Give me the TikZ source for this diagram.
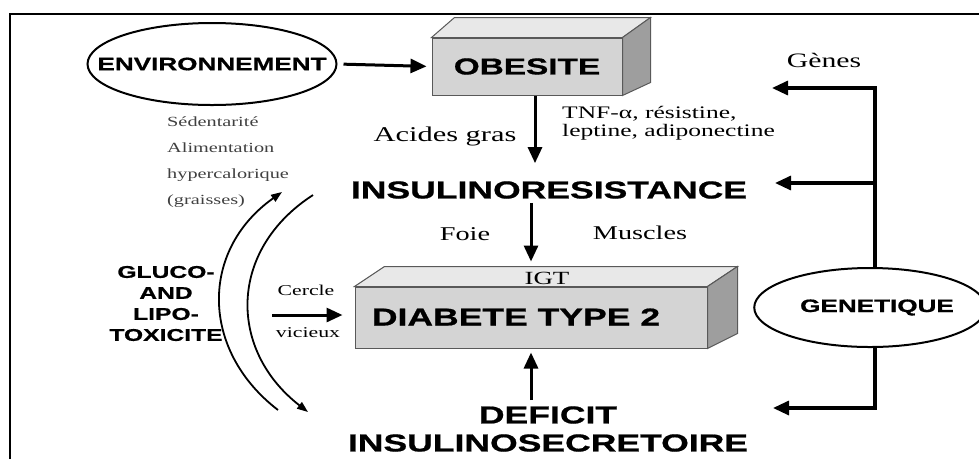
\documentclass[tikz,border=0pt]{standalone}
\usepackage{fontspec}
\usetikzlibrary{arrows.meta,calc,shapes.geometric}
\newfontfamily\headfont[FakeStretch=1.45, BoldFeatures={FakeBold=0.8}]{Liberation Sans}
\newfontfamily\notefont[FakeStretch=1.45]{Liberation Serif}
\tikzset{
  big/.style={font=\headfont\bfseries\fontsize{24.5}{28}\selectfont, inner sep=0pt, align=center},
  mid/.style={font=\headfont\bfseries\fontsize{17.6}{21}\selectfont, inner sep=0pt, align=center},
  note/.style={font=\notefont\fontsize{#1}{18}\selectfont, inner sep=0pt},
  note/.default=20,
  front/.style={draw=black!65, line width=1pt, fill=black!17, inner sep=0pt},
  face/.style={draw=black!65, line width=1pt, fill=#1},
  oval/.style={draw, ellipse, line width=2pt, inner sep=0pt},
  arr/.style={line width=3pt, -{Triangle[length=16pt,width=14pt]}},
  gline/.style={line width=3.2pt, -{Triangle[length=16pt,width=14pt]}},
  carr/.style={line width=1.8pt, -{Triangle[length=11pt,width=8pt]}}
}

\begin{document}
\begin{tikzpicture}[x=1pt, y=-1pt]
			%%%%% START %%%%%
			\useasboundingbox (0,0) rectangle (979,459);
			\draw[line width=2.5pt] (10,459) -- (10,14) -- (979,14);

			% boxes
			\node[front, big, font=\headfont\bfseries\fontsize{23}{26}\selectfont, minimum width=190, minimum height=57] (obe) at (527,66.5) {OBESITE};
			\draw[face=black!9] (obe.north west) -- ++(23,-20) -- ($(obe.north east)+(28,-20)$) -- (obe.north east) -- cycle;
			\draw[face=black!38] (obe.north east) -- ++(28,-20) -- ($(obe.south east)+(28,-13)$) -- (obe.south east) -- cycle;

			\node[front, minimum width=352, minimum height=61] (dia) at (531,317.5) {};
			\draw[face=black!9] (dia.north west) -- ++(30,-20) -- ($(dia.north east)+(30,-20)$) -- (dia.north east) -- cycle;
			\draw[face=black!38] (dia.north east) -- ++(30,-20) -- ($(dia.south east)+(30,-15)$) -- (dia.south east) -- cycle;
			\node[big] (diat) at (516,317) {DIABETE TYPE 2};
			\node[note=18.6, anchor=base] (igt) at (547,284) {IGT};

			% ovals
			\node[oval, mid, font=\headfont\bfseries\fontsize{18}{21}\selectfont, inner xsep=-27pt, minimum width=249, minimum height=82] (env) at (212,64) {ENVIRONNEMENT};
			\node[oval, mid, font=\headfont\bfseries\fontsize{18}{21}\selectfont, inner xsep=-2pt, minimum width=214, minimum height=79] (gen) at (870,307.5) {\hspace{14pt}GENETIQUE};

			% texts
			\node[big] (ins) at (549,190) {INSULINORESISTANCE};
			\node[big] (def) at (548,429) {DEFICIT\\INSULINOSECRETOIRE};
			\node[mid, font=\headfont\bfseries\fontsize{17}{21}\selectfont] (tox) at (166,303.5) {GLUCO-\\AND\\LIPO-\\TOXICITE};
			\node[note=14, font=\notefont\fontsize{14}{26}\selectfont, text=black!75, align=left, anchor=north west] (env2) at (167,117) {Sédentarité\\Alimentation\\hypercalorique\\(graisses)};
			\node[note=21, anchor=base] (acid) at (445,141) {Acides gras};
			\node[note=17.6, align=left, anchor=west] (tnf) at (562,123) {TNF-α, résistine,\\leptine, adiponectine};
			\node[note=20.5, anchor=base] (genes) at (824,67) {Gènes};
			\node[note=19.5, anchor=base] (foie) at (465,240) {Foie};
			\node[note=19.5, anchor=base] (musc) at (640,239) {Muscles};
			\node[note=15, anchor=base] (cerc) at (306,295) {Cercle};
			\node[note=15, anchor=base] (vic) at (308,337) {vicieux};

			% arrows
			\draw[arr, shorten <=6pt, shorten >=5pt] (env.east) -- (obe.west);
			\draw[arr, shorten >=18pt] ([xshift=8pt]obe.south) -- ([xshift=8pt]obe.south |- ins.north);
			\draw[arr, shorten <=4pt, shorten >=25pt] (ins.south -| dia.north) -- (dia.north);
			\draw[arr, shorten <=6pt, shorten >=4pt] (def.north -| dia.south) -- (dia.south);

			\coordinate (cv) at (272,315);
			\draw[arr, shorten >=12pt] (cv) -- (cv -| dia.west);

			\coordinate (gtop) at (875,88);
			\coordinate (tobe) at (772,88);
			\coordinate (tins) at (775,183);
			\coordinate (tdef) at (773,408);
			\draw[gline] (gen.north -| gtop) |- (tobe);
			\draw[gline] (tins -| gtop) -- (tins);
			\draw[gline] (gen.south -| gtop) |- (tdef);

			\coordinate (c1a) at (278,410);
			\coordinate (c1b) at (282,192);
			\coordinate (c2a) at (313,195);
			\coordinate (c2b) at (308,412);
			\draw[carr] (c1a) .. controls (200,350) and (200,250) .. (c1b);
			\draw[carr] (c2a) .. controls (228,250) and (228,350) .. (c2b);
			%%%%% END %%%%%
\end{tikzpicture}
\end{document}
